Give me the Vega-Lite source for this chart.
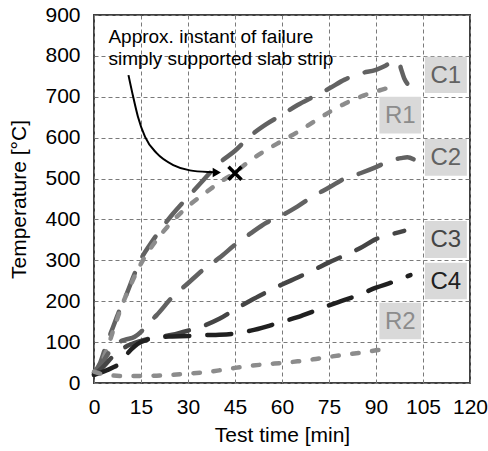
{
  "$schema": "https://vega.github.io/schema/vega-lite/v6.json",
  "width": 376,
  "height": 368,
  "autosize": {"type": "none"},
  "padding": {"left": 94, "top": 15, "right": 18, "bottom": 68},
  "background": "white",
  "config": {
    "font": "Liberation Sans",
    "view": {"stroke": "#404040", "strokeWidth": 2},
    "axis": {
      "domain": false,
      "ticks": false,
      "grid": true,
      "gridColor": "#7a7a7a",
      "gridDash": [4, 3],
      "gridWidth": 1,
      "labelFont": "Liberation Sans",
      "labelFontSize": 21,
      "labelColor": "#000000",
      "labelOverlap": false,
      "labelFlush": false,
      "labelBound": false,
      "titleFont": "Liberation Sans",
      "titleFontSize": 21,
      "titleFontWeight": "normal",
      "titleColor": "#000000"
    },
    "axisX": {"labelPadding": 13, "titlePadding": 7},
    "axisY": {"labelPadding": 14, "titlePadding": 15}
  },
  "layer": [
    {
      "data": {
        "values": [
          {"label": "C1", "t0": 105.6, "t1": 119, "y0": 709, "y1": 798},
          {"label": "R1", "t0": 91.1, "t1": 104.4, "y0": 610, "y1": 700},
          {"label": "C2", "t0": 105.6, "t1": 119, "y0": 507, "y1": 597},
          {"label": "C3", "t0": 105.6, "t1": 119, "y0": 306, "y1": 396},
          {"label": "C4", "t0": 105.6, "t1": 119, "y0": 205, "y1": 294},
          {"label": "R2", "t0": 91.1, "t1": 104.4, "y0": 107, "y1": 196}
        ]
      },
      "mark": {"type": "rect", "fill": "#d9d9d9"},
      "encoding": {
        "x": {
          "field": "t0",
          "type": "quantitative",
          "title": "Test time [min]",
          "scale": {"domain": [0, 120], "nice": false, "zero": false},
          "axis": {"values": [0, 15, 30, 45, 60, 75, 90, 105, 120]}
        },
        "x2": {"field": "t1"},
        "y": {
          "field": "y0",
          "type": "quantitative",
          "title": "Temperature [°C]",
          "scale": {"domain": [0, 900], "nice": false},
          "axis": {"values": [0, 100, 200, 300, 400, 500, 600, 700, 800, 900]}
        },
        "y2": {"field": "y1"}
      }
    },
    {
      "data": {
        "values": [
          {"series": "C1", "t": 0, "temp": 25}, {"series": "C1", "t": 2, "temp": 50},
          {"series": "C1", "t": 4, "temp": 95}, {"series": "C1", "t": 6, "temp": 135},
          {"series": "C1", "t": 8, "temp": 175}, {"series": "C1", "t": 10, "temp": 210},
          {"series": "C1", "t": 13, "temp": 268}, {"series": "C1", "t": 15, "temp": 303},
          {"series": "C1", "t": 18, "temp": 340}, {"series": "C1", "t": 20, "temp": 362},
          {"series": "C1", "t": 25, "temp": 412}, {"series": "C1", "t": 30, "temp": 455},
          {"series": "C1", "t": 35, "temp": 497}, {"series": "C1", "t": 40, "temp": 538},
          {"series": "C1", "t": 45, "temp": 568}, {"series": "C1", "t": 50, "temp": 605},
          {"series": "C1", "t": 55, "temp": 633}, {"series": "C1", "t": 60, "temp": 656},
          {"series": "C1", "t": 65, "temp": 680}, {"series": "C1", "t": 70, "temp": 700},
          {"series": "C1", "t": 75, "temp": 720}, {"series": "C1", "t": 80, "temp": 742},
          {"series": "C1", "t": 85, "temp": 757}, {"series": "C1", "t": 90, "temp": 766},
          {"series": "C1", "t": 93, "temp": 776}, {"series": "C1", "t": 96, "temp": 788},
          {"series": "C1", "t": 97.3, "temp": 785}, {"series": "C1", "t": 98, "temp": 768},
          {"series": "C1", "t": 99, "temp": 745}, {"series": "C1", "t": 100, "temp": 732},

          {"series": "R1", "t": 0, "temp": 20}, {"series": "R1", "t": 2, "temp": 45},
          {"series": "R1", "t": 4, "temp": 80}, {"series": "R1", "t": 6, "temp": 125},
          {"series": "R1", "t": 8, "temp": 170}, {"series": "R1", "t": 10, "temp": 210},
          {"series": "R1", "t": 12, "temp": 245}, {"series": "R1", "t": 15, "temp": 292},
          {"series": "R1", "t": 20, "temp": 350}, {"series": "R1", "t": 25, "temp": 395},
          {"series": "R1", "t": 30, "temp": 432}, {"series": "R1", "t": 35, "temp": 462},
          {"series": "R1", "t": 40, "temp": 490}, {"series": "R1", "t": 45, "temp": 515},
          {"series": "R1", "t": 50, "temp": 545}, {"series": "R1", "t": 55, "temp": 570},
          {"series": "R1", "t": 60, "temp": 592}, {"series": "R1", "t": 65, "temp": 614},
          {"series": "R1", "t": 70, "temp": 638}, {"series": "R1", "t": 75, "temp": 662},
          {"series": "R1", "t": 80, "temp": 683}, {"series": "R1", "t": 85, "temp": 700},
          {"series": "R1", "t": 90, "temp": 713}, {"series": "R1", "t": 95, "temp": 724},

          {"series": "C2", "t": 0, "temp": 25}, {"series": "C2", "t": 2, "temp": 42},
          {"series": "C2", "t": 5, "temp": 77}, {"series": "C2", "t": 8, "temp": 100},
          {"series": "C2", "t": 10, "temp": 106}, {"series": "C2", "t": 13, "temp": 113},
          {"series": "C2", "t": 15, "temp": 125}, {"series": "C2", "t": 17, "temp": 143},
          {"series": "C2", "t": 20, "temp": 166}, {"series": "C2", "t": 25, "temp": 210},
          {"series": "C2", "t": 30, "temp": 244}, {"series": "C2", "t": 35, "temp": 278},
          {"series": "C2", "t": 40, "temp": 306}, {"series": "C2", "t": 45, "temp": 338},
          {"series": "C2", "t": 50, "temp": 366}, {"series": "C2", "t": 55, "temp": 392},
          {"series": "C2", "t": 60, "temp": 410}, {"series": "C2", "t": 65, "temp": 432},
          {"series": "C2", "t": 70, "temp": 457}, {"series": "C2", "t": 75, "temp": 478},
          {"series": "C2", "t": 80, "temp": 500}, {"series": "C2", "t": 85, "temp": 513},
          {"series": "C2", "t": 90, "temp": 528}, {"series": "C2", "t": 95, "temp": 545},
          {"series": "C2", "t": 98, "temp": 550}, {"series": "C2", "t": 100, "temp": 552},
          {"series": "C2", "t": 102, "temp": 547},

          {"series": "C3", "t": 0, "temp": 20}, {"series": "C3", "t": 3, "temp": 40},
          {"series": "C3", "t": 6, "temp": 65}, {"series": "C3", "t": 10, "temp": 88},
          {"series": "C3", "t": 15, "temp": 103}, {"series": "C3", "t": 20, "temp": 112},
          {"series": "C3", "t": 25, "temp": 118}, {"series": "C3", "t": 30, "temp": 128},
          {"series": "C3", "t": 35, "temp": 140}, {"series": "C3", "t": 40, "temp": 157},
          {"series": "C3", "t": 45, "temp": 180}, {"series": "C3", "t": 50, "temp": 202},
          {"series": "C3", "t": 55, "temp": 222}, {"series": "C3", "t": 60, "temp": 241},
          {"series": "C3", "t": 65, "temp": 258}, {"series": "C3", "t": 70, "temp": 276},
          {"series": "C3", "t": 75, "temp": 295}, {"series": "C3", "t": 80, "temp": 312},
          {"series": "C3", "t": 85, "temp": 330}, {"series": "C3", "t": 90, "temp": 352},
          {"series": "C3", "t": 95, "temp": 364}, {"series": "C3", "t": 99, "temp": 372},

          {"series": "C4", "t": 0, "temp": 20}, {"series": "C4", "t": 3, "temp": 28},
          {"series": "C4", "t": 6, "temp": 38}, {"series": "C4", "t": 9, "temp": 52},
          {"series": "C4", "t": 11, "temp": 75}, {"series": "C4", "t": 13, "temp": 90},
          {"series": "C4", "t": 15, "temp": 100}, {"series": "C4", "t": 18, "temp": 108},
          {"series": "C4", "t": 20, "temp": 112}, {"series": "C4", "t": 25, "temp": 114},
          {"series": "C4", "t": 30, "temp": 115}, {"series": "C4", "t": 35, "temp": 117},
          {"series": "C4", "t": 40, "temp": 118}, {"series": "C4", "t": 45, "temp": 121},
          {"series": "C4", "t": 50, "temp": 128}, {"series": "C4", "t": 55, "temp": 138},
          {"series": "C4", "t": 60, "temp": 150}, {"series": "C4", "t": 65, "temp": 161},
          {"series": "C4", "t": 70, "temp": 175}, {"series": "C4", "t": 75, "temp": 190},
          {"series": "C4", "t": 80, "temp": 203}, {"series": "C4", "t": 85, "temp": 217},
          {"series": "C4", "t": 90, "temp": 233}, {"series": "C4", "t": 95, "temp": 246},
          {"series": "C4", "t": 101, "temp": 264},

          {"series": "R2", "t": 0, "temp": 28}, {"series": "R2", "t": 2, "temp": 23},
          {"series": "R2", "t": 5, "temp": 19}, {"series": "R2", "t": 10, "temp": 17},
          {"series": "R2", "t": 15, "temp": 17}, {"series": "R2", "t": 20, "temp": 18},
          {"series": "R2", "t": 25, "temp": 20}, {"series": "R2", "t": 30, "temp": 23},
          {"series": "R2", "t": 35, "temp": 26}, {"series": "R2", "t": 40, "temp": 31},
          {"series": "R2", "t": 45, "temp": 37}, {"series": "R2", "t": 50, "temp": 42},
          {"series": "R2", "t": 55, "temp": 46}, {"series": "R2", "t": 60, "temp": 49},
          {"series": "R2", "t": 65, "temp": 53}, {"series": "R2", "t": 70, "temp": 58},
          {"series": "R2", "t": 75, "temp": 64}, {"series": "R2", "t": 80, "temp": 69},
          {"series": "R2", "t": 85, "temp": 74}, {"series": "R2", "t": 90, "temp": 80},
          {"series": "R2", "t": 95, "temp": 86}
        ]
      },
      "mark": {"type": "line", "strokeWidth": 4.5, "strokeCap": "round", "interpolate": "monotone"},
      "encoding": {
        "x": {"field": "t", "type": "quantitative", "title": "Test time [min]"},
        "y": {"field": "temp", "type": "quantitative", "title": "Temperature [°C]"},
        "color": {
          "field": "series",
          "type": "nominal",
          "legend": null,
          "scale": {
            "domain": ["C1", "R1", "C2", "C3", "C4", "R2"],
            "range": ["#626262", "#8c8c8c", "#626262", "#454545", "#202020", "#8c8c8c"]
          }
        },
        "strokeDash": {
          "field": "series",
          "type": "nominal",
          "legend": null,
          "scale": {
            "domain": ["C1", "R1", "C2", "C3", "C4", "R2"],
            "range": [[24, 18], [6.5, 13.5], [24, 18], [24, 18], [24, 18], [6.5, 13.5]]
          }
        }
      }
    },
    {
      "data": {
        "values": [
          {"label": "C1", "tc": 112.3, "yc": 753.5},
          {"label": "R1", "tc": 97.75, "yc": 655},
          {"label": "C2", "tc": 112.3, "yc": 552},
          {"label": "C3", "tc": 112.3, "yc": 351},
          {"label": "C4", "tc": 112.3, "yc": 249.5},
          {"label": "R2", "tc": 97.75, "yc": 151.5}
        ]
      },
      "mark": {"type": "text", "fontSize": 24, "align": "center", "baseline": "middle", "dy": 1},
      "encoding": {
        "x": {"field": "tc", "type": "quantitative", "title": "Test time [min]"},
        "y": {"field": "yc", "type": "quantitative", "title": "Temperature [°C]"},
        "text": {"field": "label"},
        "color": {
          "field": "label",
          "type": "nominal",
          "legend": null,
          "scale": {
            "domain": ["C1", "R1", "C2", "C3", "C4", "R2"],
            "range": ["#5a5a5a", "#9a9a9a", "#5a5a5a", "#404040", "#262626", "#9a9a9a"]
          }
        }
      }
    },
    {
      "data": {
        "values": [
          {"note": "Approx. instant of failure", "t": 4.6, "temp": 831},
          {"note": "simply supported slab strip", "t": 4.6, "temp": 778}
        ]
      },
      "mark": {"type": "text", "fontSize": 19, "align": "left", "baseline": "alphabetic", "color": "#000000"},
      "encoding": {
        "x": {"field": "t", "type": "quantitative", "title": "Test time [min]"},
        "y": {"field": "temp", "type": "quantitative", "title": "Temperature [°C]"},
        "text": {"field": "note"}
      }
    },
    {
      "data": {
        "values": [
          {"t": 11, "temp": 753}, {"t": 12.5, "temp": 700}, {"t": 14, "temp": 652},
          {"t": 16.3, "temp": 602}, {"t": 20, "temp": 562}, {"t": 25.3, "temp": 533},
          {"t": 30.6, "temp": 520}, {"t": 36.5, "temp": 516}, {"t": 38.5, "temp": 515.5}
        ]
      },
      "mark": {"type": "line", "color": "#000000", "strokeWidth": 2, "interpolate": "monotone"},
      "encoding": {
        "x": {"field": "t", "type": "quantitative", "title": "Test time [min]"},
        "y": {"field": "temp", "type": "quantitative", "title": "Temperature [°C]"}
      }
    },
    {
      "data": {"values": [{"t": 39.2, "temp": 515}]},
      "mark": {"type": "point", "shape": "triangle-right", "filled": true, "color": "#000000", "size": 90, "opacity": 1},
      "encoding": {
        "x": {"field": "t", "type": "quantitative", "title": "Test time [min]"},
        "y": {"field": "temp", "type": "quantitative", "title": "Temperature [°C]"}
      }
    },
    {
      "data": {"values": [{"t": 45, "temp": 513}]},
      "mark": {
        "type": "point",
        "shape": "M-1,-1L1,1M-1,1L1,-1",
        "filled": false,
        "color": "#000000",
        "strokeWidth": 3.5,
        "size": 170,
        "opacity": 1
      },
      "encoding": {
        "x": {"field": "t", "type": "quantitative", "title": "Test time [min]"},
        "y": {"field": "temp", "type": "quantitative", "title": "Temperature [°C]"}
      }
    }
  ]
}
